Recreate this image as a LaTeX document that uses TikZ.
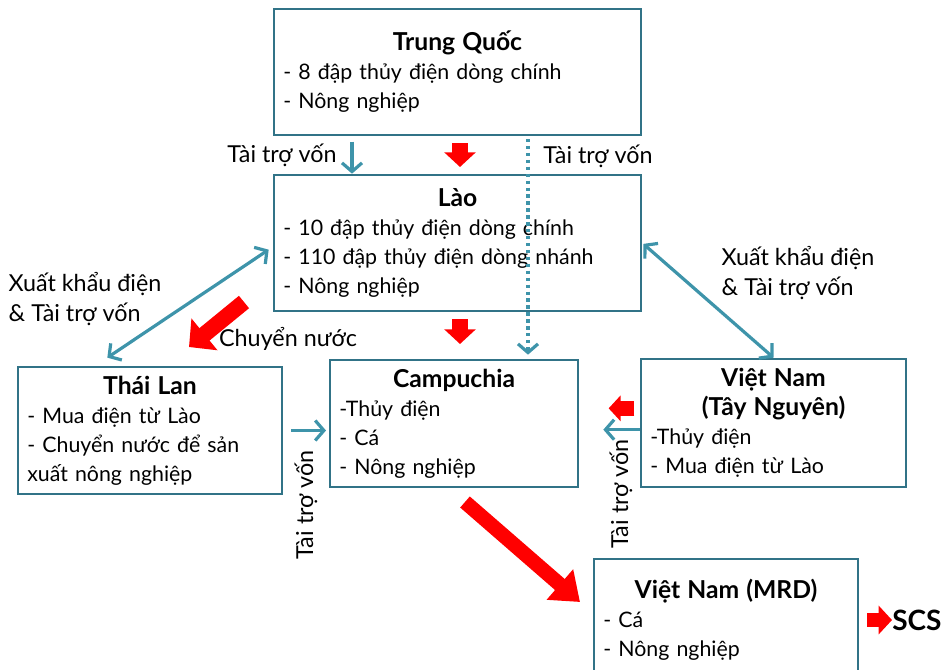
\documentclass[tikz,border=0pt]{standalone}
\usepackage{fontspec}
\setmainfont{Lato}
\usepackage{xcolor}
\usepackage{tikz}
\definecolor{boxteal}{RGB}{49,115,135}
\definecolor{arrowteal}{RGB}{62,148,170}
\definecolor{flowred}{RGB}{255,0,0}
\usetikzlibrary{arrows.meta}
\newcommand{\boxtitle}[1]{{\fontsize{18.5}{21.75}\selectfont\bfseries #1}}
\tikzset{
	box/.style={draw=boxteal, line width=2pt, rectangle, inner xsep=7pt, inner ysep=0pt, font=\fontsize{16}{21.75}\selectfont},
	lbl/.style={font=\fontsize{17.5}{22.5}\selectfont, inner sep=0pt},
	tealarrow/.style={draw=arrowteal, line width=2.4pt, >={Straight Barb[length=6.5pt,width=15pt]}},
	redarrow/.style={draw=flowred, line width=11.5pt, -{Triangle[length=11pt,width=23pt]}}
}

\begin{document}
\begin{tikzpicture}[x=0.75pt, y=-0.75pt]
	\clip (0,0) rectangle (946,669);
	
	\node[box, text width=261.25pt, minimum height=94.5pt] (trung) at (457.5,72) {\centering\boxtitle{Trung Quốc}\par\raggedright - 8 đập thủy điện dòng chính\\- Nông nghiệp};
	
	\node[box, text width=261.25pt, minimum height=102pt] (lao) at (457.5,243) {\centering\boxtitle{Lào}\par\raggedright - 10 đập thủy điện dòng chính\\- 110 đập thủy điện dòng nhánh\\- Nông nghiệp};
	
	\node[box, text width=184pt, minimum height=95.25pt] (thai) at (150,430.5) {\centering\boxtitle{Thái Lan}\par\raggedright - Mua điện từ Lào\\- Chuyển nước để sản xuất nông nghiệp};
	
	\node[box, text width=172pt, minimum height=95.25pt] (campu) at (454,423.5) {\centering\boxtitle{Campuchia}\par\raggedright -Thủy điện\\- Cá\\- Nông nghiệp};
	
	\node[box, text width=184.75pt, minimum height=96pt] (vntn) at (773.5,423) {\centering\boxtitle{Việt Nam}\\\boxtitle{(Tây Nguyên)}\par\raggedright -Thủy điện\\- Mua điện từ Lào};
	
	\node[box, text width=184pt, minimum height=91.5pt] (mrd) at (726,620) {\centering\boxtitle{Việt Nam (MRD)}\par\raggedright - Cá\\- Nông nghiệp};
	
	\node[lbl, font=\fontsize{21}{24}\selectfont\bfseries, anchor=west] (scs) at (892,620) {SCS};
	
	\node[lbl] (lbltrung) at (282,155) {Tài trợ vốn};
	
	\node[lbl] (lbldot) at (598,156) {Tài trợ vốn};
	
	\node[lbl, align=left] (lblthai) at (85,299) {Xuất khẩu điện\\\& Tài trợ vốn};
	
	\node[lbl, align=left] (lblvn) at (798,273) {Xuất khẩu điện\\\& Tài trợ vốn};
	
	\node[lbl] (lblnuoc) at (288,339) {Chuyển nước};
	
	\node[lbl, rotate=90] (lblthaicam) at (306,505) {Tài trợ vốn};
	
	\node[lbl, rotate=90] (lblvncam) at (621,494) {Tài trợ vốn};
	
	\coordinate (nuocA) at (244,302);
	\coordinate (nuocB) at (189,347);
	\coordinate (songA) at (465,502);
	\coordinate (songB) at (580,602);
	
	\draw[tealarrow, ->, shorten <=4pt] (352,0 |- trung.south) -- (352,0 |- lao.north);
	
	\draw[redarrow, shorten <=5pt, shorten >=5pt] (460,0 |- trung.south) -- (460,0 |- lao.north);
	
	\draw[tealarrow, ->, dash pattern=on 2.5pt off 2.7pt, shorten <=2pt, shorten >=3pt] (528,0 |- trung.south) -- (528,0 |- campu.north);
	
	\draw[redarrow, shorten <=5pt, shorten >=11pt] (460,0 |- lao.south) -- (460,0 |- campu.north);
	
	\draw[tealarrow, <->] ([xshift=-3pt,yshift=-5pt]lao.west) -- ([xshift=-32pt,yshift=6pt]thai.north);
	
	\draw[tealarrow, <->, shorten <=1pt] (lao.east) -- (vntn.north);
	
	\draw[redarrow, line width=12pt, -{Triangle[length=15pt,width=30pt]}] (nuocA) -- (nuocB);
	
	\draw[tealarrow, ->, shorten <=6pt, shorten >=2pt] (thai.east) -- (thai.east -| campu.west);
	
	\draw[redarrow, line width=11pt, -{Triangle[length=9pt,width=19pt]}, shorten <=4pt, shorten >=22pt] ([yshift=11pt]vntn.west) -- ([yshift=11pt]vntn.west -| campu.east);
	
	\draw[tealarrow, ->, shorten >=18pt] ([yshift=-5pt]vntn.west) -- ([yshift=-5pt]vntn.west -| campu.east);
	
	\draw[redarrow, line width=11pt, -{Triangle[length=20pt,width=29pt]}] (songA) -- (songB);
	
	\draw[redarrow, line width=11pt, -{Triangle[length=10pt,width=21pt]}, shorten <=6pt] (mrd.east) -- (scs.west);
\end{tikzpicture}
\end{document}
